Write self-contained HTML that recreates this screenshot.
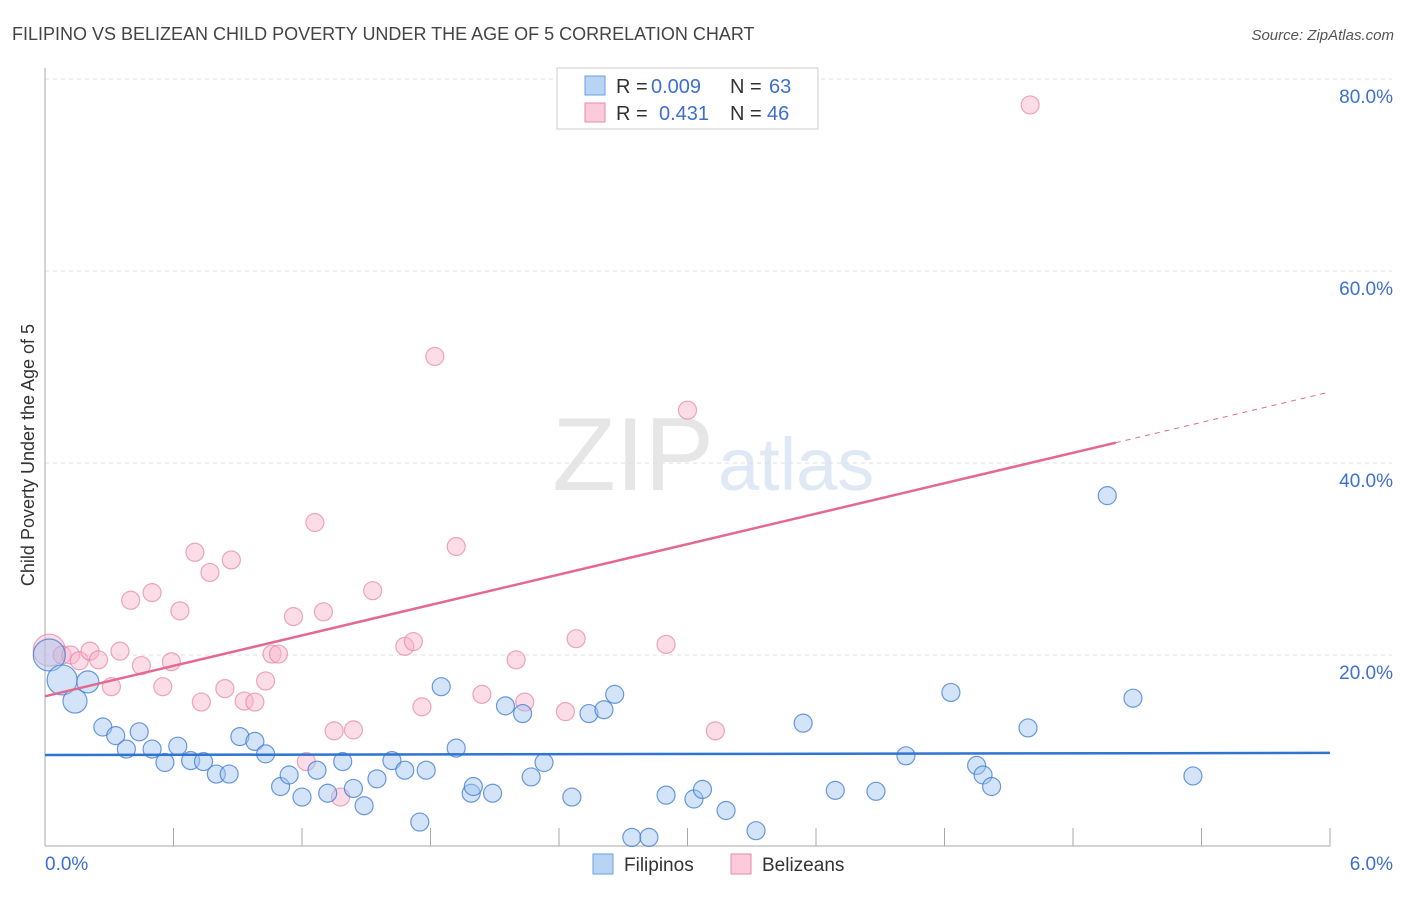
<!DOCTYPE html>
<html><head><meta charset="utf-8"><style>
body{margin:0;background:#fff;font-family:"Liberation Sans",sans-serif}
svg text{font-family:"Liberation Sans",sans-serif}
</style></head><body>
<svg id="c" width="1406" height="892">
<text x="12" y="40" font-size="18" fill="#444">FILIPINO VS BELIZEAN CHILD POVERTY UNDER THE AGE OF 5 CORRELATION CHART</text>
<text x="1394" y="40" font-size="15" fill="#555" text-anchor="end" font-style="italic">Source: ZipAtlas.com</text>
<text x="714" y="490" font-size="104" fill="#e6e6e6" text-anchor="end" font-family="Liberation Serif">ZIP</text>
<text x="718" y="490" font-size="74" fill="#dfe8f5">atlas</text>
<text transform="translate(34,455) rotate(-90)" font-size="18" fill="#333" text-anchor="middle">Child Poverty Under the Age of 5</text>
<g id="grid"></g><g id="pts"></g><g id="lines"></g>
<g>
<rect x="557" y="68" width="261" height="61" fill="#fff" stroke="#ccc"/>
<rect x="585" y="76" width="20" height="19" fill="#b8d4f5" stroke="#6a9ee0"/>
<rect x="585" y="103" width="20" height="19" fill="#fbcadb" stroke="#e58aa8"/>
<text x="616" y="93" font-size="20" fill="#333">R =</text>
<text x="651" y="93" font-size="20" fill="#3c6fd1">0.009</text>
<text x="730" y="93" font-size="20" fill="#333">N =</text>
<text x="769" y="93" font-size="20" fill="#3c6fd1">63</text>
<text x="616" y="120" font-size="20" fill="#333">R =</text>
<text x="659" y="120" font-size="20" fill="#3c6fd1">0.431</text>
<text x="730" y="120" font-size="20" fill="#333">N =</text>
<text x="767" y="120" font-size="20" fill="#3c6fd1">46</text>
</g>
<g>
<rect x="593" y="854" width="20" height="20" fill="#b8d4f5" stroke="#6a9ee0"/>
<text x="624" y="871" font-size="19" fill="#333">Filipinos</text>
<rect x="731" y="854" width="20" height="20" fill="#fbcadb" stroke="#e58aa8"/>
<text x="762" y="871" font-size="19" fill="#333">Belizeans</text>
</g>
</svg>
<script>
const blueX=[0.02,0.08,0.14,0.20,0.27,0.33,0.38,0.44,0.50,0.56,0.62,0.68,0.74,0.80,0.86,0.91,0.98,1.03,1.10,1.14,1.20,1.27,1.32,1.39,1.44,1.49,1.55,1.62,1.68,1.75,1.78,1.85,1.92,1.99,2.00,2.09,2.15,2.23,2.27,2.33,2.46,2.54,2.61,2.66,2.74,2.82,2.90,3.03,3.07,3.18,3.32,3.54,3.69,3.88,4.02,4.23,4.35,4.38,4.42,4.59,4.96,5.08,5.36];
const blueY=[20.0,17.4,15.2,17.2,12.5,11.6,10.2,12.0,10.2,8.8,10.5,9.0,8.9,7.6,7.6,11.5,11.0,9.7,6.3,7.5,5.2,8.0,5.6,8.9,6.1,4.3,7.1,9.0,8.0,2.6,8.0,16.7,10.3,5.6,6.3,5.6,14.7,13.9,7.3,8.8,5.2,13.9,14.3,15.9,1.0,1.0,5.4,5.0,6.0,3.8,1.7,12.9,5.9,5.8,9.5,16.1,8.5,7.5,6.3,12.4,36.6,15.5,7.4];
const pinkX=[0.02,0.08,0.12,0.16,0.21,0.25,0.31,0.35,0.40,0.45,0.50,0.55,0.59,0.63,0.70,0.73,0.77,0.84,0.87,0.93,0.98,1.03,1.06,1.09,1.16,1.22,1.26,1.30,1.35,1.38,1.44,1.53,1.68,1.72,1.76,1.82,1.92,2.04,2.20,2.24,2.43,2.48,2.90,3.00,3.13,4.60];
const pinkY=[20.5,20.0,20.0,19.4,20.4,19.5,16.7,20.4,25.7,18.9,26.5,16.7,19.3,24.6,30.7,15.1,28.6,16.5,29.9,15.2,15.1,17.3,20.1,20.1,24.0,8.9,33.8,24.5,12.1,5.2,12.2,26.7,20.9,21.4,14.6,51.1,31.3,15.9,19.5,15.1,14.1,21.7,21.1,45.5,12.1,77.3];
const blueTrend=[9.58,9.8];
const pinkTrend=[15.7,47.4];
const yTicks=[20,40,60,80];
const xTicks=[0,0.6,1.2,1.8,2.4,3.0,3.6,4.2,4.8,5.4,6.0];
const NS='http://www.w3.org/2000/svg';
const X=v=>45+v/6*1285, Y=v=>847-v/20*192;
function mk(tag,attrs,parent){const e=document.createElementNS(NS,tag);for(const k in attrs)e.setAttribute(k,attrs[k]);document.getElementById(parent).appendChild(e);return e;}
let g;
yTicks.forEach(t=>{g=mk('line',{x1:45,x2:1392,y1:Y(t),y2:Y(t),stroke:'#ddd','stroke-dasharray':'4,4'},'grid');


g=mk('text',{x:1393,y:Y(t)+24,'font-size':19,fill:'#3c6fd1','text-anchor':'end'},'grid');g.textContent=t.toFixed(1)+'%';

});
g=mk('line',{x1:45,x2:45,y1:68,y2:846,stroke:'#aaa'},'grid');


g=mk('line',{x1:45,x2:1330,y1:846,y2:846,stroke:'#aaa'},'grid');


xTicks.forEach(t=>{g=mk('line',{x1:X(t),x2:X(t),y1:828,y2:846,stroke:'#aaa'},'grid');

});
g=mk('text',{x:45,y:870,'font-size':19,fill:'#3c6fd1'},'grid');g.textContent='0.0%';


g=mk('text',{x:1393,y:870,'font-size':19,fill:'#3c6fd1','text-anchor':'end'},'grid');g.textContent='6.0%';


function rad(i){return i===0?16:i===1?15:i===2?12:i===3?11:9;}
pinkX.forEach((x,i)=>{g=mk('circle',{cx:X(x),cy:Y(pinkY[i]),r:i===0?16:9,fill:'rgba(248,180,202,0.45)',stroke:'rgba(230,130,165,0.7)','stroke-width':1.2},'pts');

});
blueX.forEach((x,i)=>{g=mk('circle',{cx:X(x),cy:Y(blueY[i]),r:rad(i),fill:'rgba(160,196,240,0.45)',stroke:'rgba(60,120,210,0.75)','stroke-width':1.2},'pts');

});
g=mk('line',{x1:X(0),y1:Y(blueTrend[0]),x2:X(6),y2:Y(blueTrend[1]),stroke:'#2f74d0','stroke-width':2.5},'lines');


const pAt=x=>pinkTrend[0]+(pinkTrend[1]-pinkTrend[0])*x/6;
g=mk('line',{x1:X(0),y1:Y(pAt(0)),x2:X(5),y2:Y(pAt(5)),stroke:'#e4688f','stroke-width':2.5},'lines');


g=mk('line',{x1:X(5),y1:Y(pAt(5)),x2:X(6),y2:Y(pAt(6)),stroke:'#e4688f','stroke-width':1,'stroke-dasharray':'5,5'},'lines');


</script>
</body></html>
